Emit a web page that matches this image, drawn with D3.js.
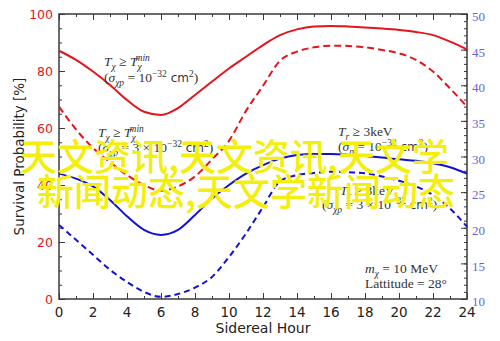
<!DOCTYPE html>
<html>
<head>
<meta charset="utf-8">
<script src="https://cdn.jsdelivr.net/npm/d3@7"></script>
<style>
  body { margin: 0; background: #fff; }
  svg { display: block; }
</style>
</head>
<body>
<div class="chart"></div>
<script>
// Data
var hours = [0, 1, 2, 3, 4, 5, 6, 7, 8, 9, 10, 11, 12, 13, 14, 15, 16, 17, 18, 19, 20, 21, 22, 23, 24];

// survival probability [%], left axis
var redSolid = [87.1, 83.9, 79.8, 75.1, 69.8, 65.7, 64.6, 67, 71.6, 76.3, 80.9, 85, 89.1, 92.6, 94.6, 95.6, 95.8, 95.6, 95.3, 94.9, 94.4, 93.7, 92.6, 90.3, 87.6];
var redDashed = [67.5, 59.5, 53, 48, 43.5, 40, 38, 39.5, 43, 49, 55.5, 66, 74.8, 83.6, 86.8, 88.3, 88.9, 88.8, 88.3, 87.4, 86.2, 83.9, 79.8, 73.9, 67.5];

// right axis
var blueSolid = [27.6, 26.9, 25.8, 23.9, 21.6, 19.7, 19, 19.7, 21.8, 24.1, 26, 27.6, 28.8, 29.7, 30.2, 30.35, 30.35, 30.25, 30.07, 29.85, 29.6, 29.4, 29.05, 28.5, 27.6];
var blueDashed = [20.4, 18.3, 16.2, 14.1, 12.4, 11, 10.3, 10.7, 11.6, 13.1, 15.9, 19.2, 22.9, 26.5, 27.4, 27.7, 27.87, 27.78, 27.64, 27.2, 26.6, 25.8, 24.6, 22.7, 20.15];

var xTicks = [0, 2, 4, 6, 8, 10, 12, 14, 16, 18, 20, 22, 24];
var leftTicks = [0, 20, 40, 60, 80, 100];
var rightTicks = [10, 15, 20, 25, 30, 35, 40, 45, 50];

var watermark = ["天文资讯,天文资讯,天文学", "新闻动态,天文学新闻动态"];

var svgWidth = 500;
var svgHeight = 341;
var margin = { top: 14, right: 33, bottom: 42, left: 59 };
var width = svgWidth - margin.left - margin.right;
var height = svgHeight - margin.top - margin.bottom;

var red = "#e3141c";
var blue = "#1212d0";
var axisColor = "#3a3a3a";

var svg = d3.select(".chart")
  .append("svg")
  .attr("width", svgWidth)
  .attr("height", svgHeight);

var chartGroup = svg.append("g")
  .attr("transform", `translate(${margin.left}, ${margin.top})`);

// scales
var x = d3.scaleLinear().domain([0, 24]).range([0, width]);
var yLeft = d3.scaleLinear().domain([0, 100]).range([height, 0]);
var yRight = d3.scaleLinear().domain([10, 50]).range([height, 0]);

// minor + major ticks, pointing inward
function tickAxis(axisFn, scale, major, minor, majorLen, minorLen) {
  return function(g) {
    g.call(axisFn(scale).tickValues(minor).tickSize(minorLen).tickFormat(""));
    g.select(".domain").remove();
    var g2 = g.append("g");
    g2.call(axisFn(scale).tickValues(major).tickSize(majorLen).tickFormat(""));
    g2.select(".domain").remove();
    g.selectAll("line").attr("stroke", axisColor);
  };
}

var xMinor = hours;
var leftMinor = d3.range(0, 101, 5);
var rightMinor = d3.range(10, 51, 1);

chartGroup.append("g")
  .attr("transform", `translate(0, ${height})`)
  .call(tickAxis(d3.axisTop, x, xTicks, xMinor, 6, 3));
chartGroup.append("g")
  .call(tickAxis(d3.axisBottom, x, xTicks, xMinor, 6, 3));
chartGroup.append("g")
  .call(tickAxis(d3.axisRight, yLeft, leftTicks, leftMinor, 6, 3));
chartGroup.append("g")
  .attr("transform", `translate(${width}, 0)`)
  .call(tickAxis(d3.axisLeft, yRight, rightTicks, rightMinor, 6, 3));

// frame
chartGroup.append("rect")
  .attr("width", width)
  .attr("height", height)
  .attr("fill", "none")
  .attr("stroke", axisColor)
  .attr("stroke-width", 1.5);

// tick labels
chartGroup.selectAll(".xlab")
  .data(xTicks)
  .enter()
  .append("text")
  .attr("x", d => x(d))
  .attr("y", height + 18)
  .attr("text-anchor", "middle")
  .attr("font-family", "DejaVu Sans")
  .attr("font-size", 13.5)
  .attr("fill", "#222")
  .text(d => d);

chartGroup.selectAll(".ylab")
  .data(leftTicks)
  .enter()
  .append("text")
  .attr("x", -6)
  .attr("y", d => yLeft(d))
  .attr("dy", "0.36em")
  .attr("text-anchor", "end")
  .attr("font-family", "DejaVu Sans")
  .attr("font-size", 12.5)
  .attr("fill", red)
  .text(d => d);

chartGroup.selectAll(".rlab")
  .data(rightTicks)
  .enter()
  .append("text")
  .attr("x", width + 5)
  .attr("y", d => yRight(d))
  .attr("dy", "0.55em")
  .attr("font-family", "Liberation Serif")
  .attr("font-size", 13)
  .attr("fill", "#6464d8")
  .text(d => d);

// axis titles
svg.append("text")
  .attr("transform", `translate(24, ${margin.top + height / 2}) rotate(-90)`)
  .attr("text-anchor", "middle")
  .attr("font-family", "DejaVu Sans")
  .attr("font-size", 13.5)
  .attr("fill", "#222")
  .text("Survival Probability [%]");

svg.append("text")
  .attr("x", margin.left + width / 2)
  .attr("y", 333)
  .attr("text-anchor", "middle")
  .attr("font-family", "DejaVu Sans")
  .attr("font-size", 14)
  .attr("fill", "#222")
  .text("Sidereal Hour");

// curves
var lineLeft = d3.line()
  .x((d, i) => x(hours[i]))
  .y(d => yLeft(d))
  .curve(d3.curveMonotoneX);

var lineRight = d3.line()
  .x((d, i) => x(hours[i]))
  .y(d => yRight(d))
  .curve(d3.curveMonotoneX);

chartGroup.append("path")
  .attr("d", lineLeft(redSolid))
  .attr("fill", "none")
  .attr("stroke", red)
  .attr("stroke-width", 2);

chartGroup.append("path")
  .attr("d", lineLeft(redDashed))
  .attr("fill", "none")
  .attr("stroke", red)
  .attr("stroke-width", 2)
  .attr("stroke-dasharray", "7,4");

chartGroup.append("path")
  .attr("d", lineRight(blueSolid))
  .attr("fill", "none")
  .attr("stroke", blue)
  .attr("stroke-width", 2);

chartGroup.append("path")
  .attr("d", lineRight(blueDashed))
  .attr("fill", "none")
  .attr("stroke", blue)
  .attr("stroke-width", 2)
  .attr("stroke-dasharray", "6,4");

// annotations: part = [text, kind, dx]; kind: i italic, n roman, c sans, s sub, p sup
function note(px, py, parts) {
  var t = svg.append("text")
    .attr("x", px)
    .attr("y", py)
    .attr("font-family", "Liberation Serif")
    .attr("font-size", 13.5)
    .attr("fill", "#333");
  var prev = 0;
  parts.forEach(function(p) {
    var kind = p[1];
    var off = kind.indexOf("s") >= 0 ? 3.5 : (kind.indexOf("p") >= 0 ? -5.5 : 0);
    var ts = t.append("tspan").text(p[0]).attr("dy", off - prev);
    prev = off;
    if (p[2]) ts.attr("dx", p[2]);
    if (kind.indexOf("i") >= 0) ts.attr("font-style", "italic");
    if (kind.indexOf("c") >= 0) ts.attr("font-family", "DejaVu Sans").attr("font-size", 12);
    if (off !== 0) ts.attr("font-size", 9.5);
  });
}

var tmin = [["T", "i"], ["χ", "is"], [" ≥ ", "n"], ["T", "i"], ["χ", "is"], ["min", "ip", -6]];
note(104, 66, tmin);
note(104, 82, [["(", "n"], ["σ", "i"], ["χp", "is"], [" = 10", "n"], ["−32", "p"], [" cm", "c"], ["2", "p"], [")", "n"]]);

note(98, 137, tmin);
note(98, 152, [["(", "n"], ["σ", "i"], ["χp", "is"], [" = 3 × 10", "n"], ["−32", "p"], [" cm", "c"], ["2", "p"], [")", "n"]]);

note(338, 136, [["T", "i"], ["r", "is"], [" ≥ 3keV", "n"]]);
note(338, 151, [["(", "n"], ["σ", "i"], ["p", "is"], [" = 10", "n"], ["−32", "p"], [" cm", "c"], ["2", "p"], [")", "n"]]);

note(340, 195, [["T", "i"], ["r", "is"], [" ≥ 3keV", "n"]]);
note(322, 209, [["(", "n"], ["σ", "i"], ["χp", "is"], [" = 3 × 10", "n"], ["−32", "p"], [" cm", "c"], ["2", "p"], [")", "n"]]);

note(365, 273, [["m", "i"], ["χ", "is"], [" = 10 MeV", "n"]]);
note(365, 288, [["Lattitude = 28°", "n"]]);

// watermark on top
svg.selectAll(".wm")
  .data(watermark)
  .enter()
  .append("text")
  .attr("x", (d, i) => i === 0 ? 20 : 37)
  .attr("y", (d, i) => 171 + i * 35)
  .attr("font-family", "Noto Sans CJK SC")
  .attr("font-weight", 500)
  .attr("font-size", 37)
  .attr("fill", "#f4ee0c")
  .text(d => d);
</script>
</body>
</html>
